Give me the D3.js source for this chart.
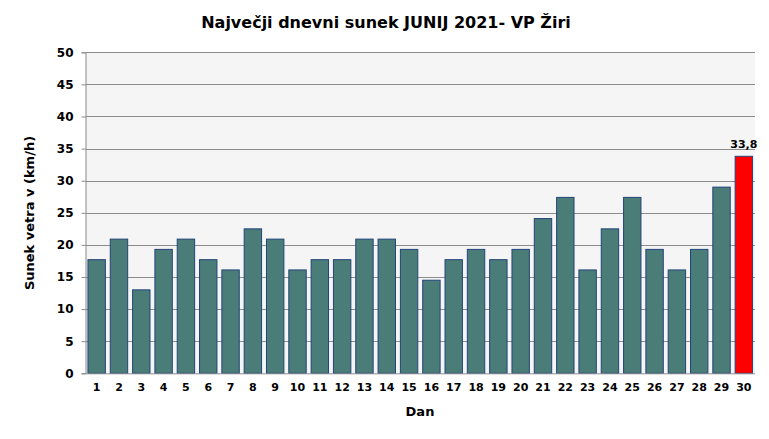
<!DOCTYPE html>
<html><head><meta charset="utf-8">
<script src="https://cdn.jsdelivr.net/npm/d3@7"></script>
<style>body{margin:0;background:#fff}svg{display:block}text{font-family:"DejaVu Sans",Verdana,sans-serif;font-weight:bold;fill:#000}</style>
</head><body>
<svg id="c" width="769" height="439"></svg>
<script>
const days = d3.range(1, 31).map(String);
const gust = [17.7,20.9,13.0,19.3,20.9,17.7,16.1,22.5,20.9,16.1,17.7,17.7,20.9,20.9,19.3,14.5,17.7,19.3,17.7,19.3,24.1,27.4,16.1,22.5,27.4,19.3,16.1,19.3,29.0,33.8];
const yTicks = [0,5,10,15,20,25,30,35,40,45,50];
const title = "Največji dnevni sunek JUNIJ 2021- VP Žiri";
const yLabel = "Sunek vetra  v (km/h)";
const xLabel = "Dan";
const maxLabel = "33,8";

const svg = d3.select("#c");
const m = {l:85.5, r:755, t:52.3, b:373.3};
const x = d3.scaleBand().domain(days).range([m.l, m.r]).paddingInner(0.22).paddingOuter(0.11);
const y = d3.scaleLinear().domain([0,50]).range([m.b, m.t]);

svg.append("rect").attr("x", m.l).attr("y", m.t).attr("width", m.r-m.l).attr("height", m.b-m.t).attr("fill", "#f5f5f5");

// gridlines
svg.append("g").selectAll("line").data(yTicks.filter(d=>d>0)).join("line")
  .attr("x1", m.l).attr("x2", m.r).attr("y1", d=>Math.round(y(d))+0.5).attr("y2", d=>Math.round(y(d))+0.5)
  .attr("stroke", "#8c8c8c").attr("stroke-width", 1);

// bars
svg.append("g").selectAll("rect").data(gust).join("rect")
  .attr("x", (d,i)=>x(days[i]))
  .attr("y", d=>y(d))
  .attr("width", x.bandwidth())
  .attr("height", d=>y(0)-y(d))
  .attr("fill", (d,i)=> i===gust.length-1 ? "#ff0000" : "#4a7c78")
  .attr("stroke", "#23447a").attr("stroke-width", 1);

// y axis
const ya = svg.append("g").attr("transform", `translate(${m.l},0)`)
  .call(d3.axisLeft(y).tickValues(yTicks).tickSize(4).tickPadding(8).tickFormat(d3.format("d")));
ya.select(".domain").attr("stroke", "#8c8c8c");
ya.selectAll(".tick line").attr("stroke", "#8c8c8c");
ya.selectAll(".tick text").style("font-size", "12px").attr("font-family", null);

// x axis
const xa = svg.append("g").attr("transform", `translate(0,${m.b})`)
  .call(d3.axisBottom(x).tickSize(0).tickPadding(10));
xa.select(".domain").attr("stroke", "#8c8c8c").attr("d", `M${m.l},0.5H${m.r}`);
xa.selectAll(".tick text").style("font-size", "11px");

// value label
svg.append("text").attr("x", x(days[29]) + x.bandwidth()/2).attr("y", y(gust[29]) - 8)
  .attr("text-anchor", "middle").style("font-size", "11px").text(maxLabel);

// titles
const t = svg.append("text").attr("x", 386).attr("y", 28).attr("text-anchor", "middle").style("font-size", "16px").text(title);
svg.append("text").attr("x", 420).attr("y", 416).attr("text-anchor", "middle").style("font-size", "13px").text(xLabel);
svg.append("text").attr("transform", "translate(34,213) rotate(-90)").attr("text-anchor", "middle").style("font-size", "13px").text(yLabel);
</script>
</body></html>
